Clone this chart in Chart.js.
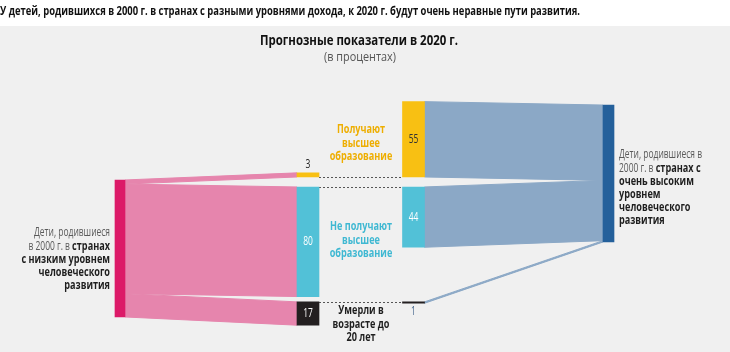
<!DOCTYPE html>
<html lang="ru">
<head>
    <meta charset="UTF-8">
    <title>Прогнозные показатели в 2020 г.</title>
    <script src="https://cdn.jsdelivr.net/npm/chart.js"></script>
    <style>
        body { margin: 0; background: #fff; }
    </style>
</head>
<body>
    <canvas id="flowChart" width="730" height="352"></canvas>

    <script>
        // data (percent of children born in 2000)
        const categories = ['Получают высшее образование', 'Не получают высшее образование', 'Умерли в возрасте до 20 лет'];
        const categoryLines = [['Получают', 'высшее', 'образование'], ['Не получают', 'высшее', 'образование'], ['Умерли в', 'возрасте до', '20 лет']];
        const lowHDI = [3, 80, 17];
        const veryHighHDI = [55, 44, 1];

        const TITLE = 'У детей, родившихся в 2000 г. в странах с разными уровнями дохода, к 2020 г. будут очень неравные пути развития.';
        const SUBTITLE = 'Прогнозные показатели в 2020 г.';
        const UNITS = '(в процентах)';

        // layout
        const FONT = '"Open Sans", sans-serif';
        const colX = { left: 120, midL: 308, midR: 413.5, right: 608.5 };
        const rowAnchor = [{ bottom: -2.2 }, { top: 5.1 }, { top: 89 }];
        const rightTop = -54.7;
        const nodeColors = ['#f8c013', '#52c1d7', '#231f20'];
        const labelColors = ['#eeae00', '#3fb8d2', '#1f1f1f'];

        let squeeze = 0.8; // horizontal condensing of label text, measured once
        const BOLD_WIDEN = 1.08;

        function rowRange(i, v) {
            const a = rowAnchor[i];
            return a.top !== undefined ? [a.top, a.top + v] : [a.bottom - v, a.bottom];
        }

        const lowTotal = lowHDI.reduce((s, v) => s + v, 0);
        const highTotal = veryHighHDI.reduce((s, v) => s + v, 0);

        function flowsFrom(values, start) {
            let acc = start;
            return values.map(v => { const r = [acc, acc + v]; acc += v; return r; });
        }
        const leftFlows = flowsFrom(lowHDI, 0);
        const rightFlows = flowsFrom(veryHighHDI, rightTop);

        function kFor(font) {
            return font.startsWith('bold') ? squeeze * BOLD_WIDEN : squeeze;
        }

        function text(ctx, s, x, y, font, color, align, fitWidth) {
            ctx.save();
            ctx.font = font;
            const k = fitWidth ? fitWidth / ctx.measureText(s).width : kFor(font);
            ctx.fillStyle = color;
            ctx.textAlign = align || 'left';
            ctx.textBaseline = 'middle';
            ctx.translate(x, y);
            ctx.scale(k, 1);
            ctx.fillText(s, 0, 0);
            ctx.restore();
        }

        function drawRuns(ctx, runs, x, y, align) {
            let total = 0;
            runs.forEach(r => {
                const f = (r[1] ? 'bold ' : '') + '12px ' + FONT;
                ctx.font = f;
                total += ctx.measureText(r[0]).width * kFor(f);
            });
            let cx = align === 'right' ? x - total : x;
            runs.forEach(r => {
                const f = (r[1] ? 'bold ' : '') + '12px ' + FONT;
                text(ctx, r[0], cx, y, f, r[1] ? '#1e1e1e' : '#5a5a5a', 'left');
                ctx.font = f;
                cx += ctx.measureText(r[0]).width * kFor(f);
            });
        }

        const flowPlugin = {
            id: 'flows',
            beforeDraw(chart) {
                const ctx = chart.ctx;
                ctx.save();
                ctx.fillStyle = '#f0f0f0';
                ctx.fillRect(0, 26, chart.width, chart.height - 26);
                ctx.font = '12px ' + FONT;
                squeeze = 76 / ctx.measureText('Дети, родившиеся').width;
                ctx.restore();
            },
            beforeDatasetsDraw(chart) {
                const ctx = chart.ctx;
                const x = chart.scales.x, y = chart.scales.y;
                ctx.save();
                function band(x0, r0, x1, r1, color) {
                    ctx.beginPath();
                    ctx.moveTo(x.getPixelForValue(x0), y.getPixelForValue(r0[0]));
                    ctx.lineTo(x.getPixelForValue(x1), y.getPixelForValue(r1[0]));
                    ctx.lineTo(x.getPixelForValue(x1), y.getPixelForValue(r1[1]));
                    ctx.lineTo(x.getPixelForValue(x0), y.getPixelForValue(r0[1]));
                    ctx.closePath();
                    ctx.fillStyle = color;
                    ctx.fill();
                    ctx.strokeStyle = color;
                    ctx.lineWidth = 1;
                    ctx.stroke();
                }
                lowHDI.forEach((v, i) => band(colX.left + 5, leftFlows[i], colX.midL - 11, rowRange(i, v), '#e685ad'));
                veryHighHDI.forEach((v, i) => band(colX.midR + 11, rowRange(i, v), colX.right - 5.5, rightFlows[i], '#8ba8c6'));

                // dotted guides between the two middle columns
                ctx.setLineDash([2, 2]);
                ctx.strokeStyle = '#555';
                ctx.lineWidth = 1;
                const guides = [rowAnchor[0].bottom, rowAnchor[1].top, rowAnchor[2].top];
                guides.forEach(g => {
                    const py = Math.round(y.getPixelForValue(g)) + 0.5;
                    ctx.beginPath();
                    ctx.moveTo(x.getPixelForValue(colX.midL + 11), py);
                    ctx.lineTo(x.getPixelForValue(colX.midR - 11), py);
                    ctx.stroke();
                });
                ctx.restore();
            },
            afterDatasetsDraw(chart) {
                const ctx = chart.ctx;
                const x = chart.scales.x, y = chart.scales.y;

                // headings
                text(ctx, TITLE, 0, 11, 'bold 13px ' + FONT, '#111', 'left', 580);
                text(ctx, SUBTITLE, 359, 41, 'bold 14px ' + FONT, '#111', 'center', 198);
                text(ctx, UNITS, 360, 57, '13px ' + FONT, '#555', 'center', 72);

                // side labels
                const leftLabel = [[['Дети, родившиеся', false]], [['в 2000 г. в ', false], ['странах', true]], [['с низким уровнем', true]], [['человеческого', true]], [['развития', true]]];
                leftLabel.forEach((runs, i) => drawRuns(ctx, runs, 110, 233 + i * 13.2, 'right'));
                const rightLabel = [[['Дети, родившиеся в', false]], [['2000 г. в ', false], ['странах с', true]], [['очень высоким', true]], [['уровнем', true]], [['человеческого', true]], [['развития', true]]];
                rightLabel.forEach((runs, i) => drawRuns(ctx, runs, 619, 155 + i * 13.2, 'left'));

                // category labels
                const catY = [130, 227, 311];
                categoryLines.forEach((lines, i) => {
                    lines.forEach((t, j) => text(ctx, t, 361, catY[i] + j * 13.3, 'bold 12px ' + FONT, labelColors[i], 'center'));
                });

                // values on nodes
                const vf = '12px ' + FONT;
                lowHDI.forEach((v, i) => {
                    const r = rowRange(i, v);
                    const cx = x.getPixelForValue(colX.midL);
                    if (v < 5) {
                        text(ctx, String(v), cx, y.getPixelForValue(r[0]) - 8, vf, '#222', 'center');
                    } else {
                        text(ctx, String(v), cx, y.getPixelForValue((r[0] + r[1]) / 2), vf, '#fff', 'center');
                    }
                });
                veryHighHDI.forEach((v, i) => {
                    const r = rowRange(i, v);
                    const cx = x.getPixelForValue(colX.midR);
                    if (v < 5) {
                        text(ctx, String(v), cx, y.getPixelForValue(r[1]) + 8, vf, '#4a6a90', 'center');
                    } else {
                        text(ctx, String(v), cx, y.getPixelForValue((r[0] + r[1]) / 2), vf, i === 0 ? '#333' : '#fff', 'center');
                    }
                });
            }
        };

        const datasets = [
            { label: 'Страны с низким ИЧР', data: [{ x: colX.left, y: [0, lowTotal] }], backgroundColor: '#dc1a68', barThickness: 10 },
            { label: 'Распределение (низкий ИЧР)', data: lowHDI.map((v, i) => ({ x: colX.midL, y: rowRange(i, v) })), backgroundColor: nodeColors, barThickness: 22 },
            { label: 'Распределение (очень высокий ИЧР)', data: veryHighHDI.map((v, i) => ({ x: colX.midR, y: rowRange(i, v) })), backgroundColor: nodeColors, barThickness: 22 },
            { label: 'Страны с очень высоким ИЧР', data: [{ x: colX.right, y: [rightTop, rightTop + highTotal] }], backgroundColor: '#24609b', barThickness: 11 }
        ].map(d => Object.assign(d, { grouped: false, borderWidth: 0, borderSkipped: false }));

        new Chart(document.getElementById('flowChart'), {
            type: 'bar',
            data: { datasets: datasets },
            options: {
                responsive: false,
                animation: false,
                layout: { padding: { top: 97.8, bottom: 14.5, left: 0, right: 0 } },
                plugins: { legend: { display: false }, tooltip: { enabled: false } },
                scales: {
                    x: { type: 'linear', min: 0, max: 730, offset: false, display: false },
                    y: { type: 'linear', reverse: true, min: -60, max: 115, display: false }
                }
            },
            plugins: [flowPlugin]
        });
    </script>
</body>
</html>
